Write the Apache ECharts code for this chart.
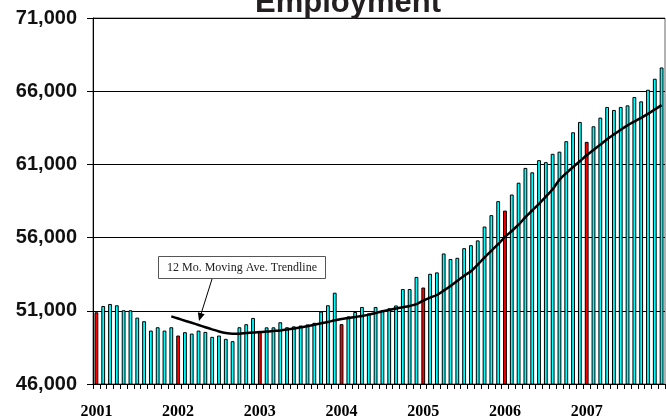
<!DOCTYPE html>
<html>
<head>
<meta charset="utf-8">
<script src="https://cdn.jsdelivr.net/npm/echarts@6/dist/echarts.min.js"></script>
<style>html,body{margin:0;padding:0;background:#fff}#c{width:666px;height:420px}</style>
</head>
<body>
<div id="c"></div>
<script>
// Monthly categories Jan 2001 .. Dec 2007
var years = ['2001','2002','2003','2004','2005','2006','2007'];
var months = ['01','02','03','04','05','06','07','08','09','10','11','12'];
var categories = [];
years.forEach(function (y) { months.forEach(function (m) { categories.push(y + '-' + m); }); });

var employment = [
  50900, 51330, 51466, 51378, 51037, 51037, 50534, 50290, 49650, 49877, 49650, 49877,
  49310, 49540, 49445, 49650, 49560, 49220, 49310, 49084, 48927, 49877, 50084, 50513,
  49540, 49870, 49870, 50220, 49877, 49940, 49995, 50070, 50180, 50950, 51380, 52236,
  50090, 50620, 50920, 51262, 50820, 51262, 51037, 51173, 51365, 52487, 52487, 53315,
  52590, 53530, 53624, 54917, 54540, 54620, 55278, 55482, 55810, 56755, 57535, 58490,
  57845, 58945, 59750, 60760, 60460, 61290, 61155, 61725, 61870, 62585, 63195, 63900,
  62540, 63604, 64196, 64924, 64720, 64924, 65033, 65605, 65306, 66102, 66851, 67620
];

// 12 month moving average trendline, null before Dec 2001
var trend = [
  null, null, null, null, null, null, null, null, null, null, null, 50620,
  50470, 50320, 50180, 50030, 49880, 49730, 49590, 49480, 49430, 49430, 49480, 49520,
  49550, 49580, 49620, 49660, 49720, 49790, 49870, 49950, 50050, 50150, 50230, 50350,
  50440, 50510, 50580, 50650, 50740, 50850, 50970, 51060, 51160, 51240, 51330, 51460,
  51700, 51900, 52080, 52380, 52700, 53050, 53400, 53700, 54150, 54650, 55100, 55550,
  56050, 56450, 56880, 57400, 57850, 58300, 58800, 59300, 59950, 60400, 60820, 61220,
  61620, 61980, 62350, 62720, 63050, 63370, 63670, 63930, 64180, 64450, 64750, 65050
];

var yTicks = [46000, 51000, 56000, 61000, 66000, 71000];

var chart = echarts.init(document.getElementById('c'), null, {renderer: 'canvas'});
chart.setOption({
  animation: false,
  backgroundColor: '#ffffff',
  title: {
    text: 'Employment',
    left: 255,
    top: -12,
    padding: 0,
    textStyle: {fontFamily: 'Liberation Sans, Arial, sans-serif', fontWeight: 'bold', fontSize: 31, color: '#231f20'}
  },
  grid: {
    left: 93, right: 1, top: 18, bottom: 35,
    show: true, borderColor: '#666', borderWidth: 1, backgroundColor: 'transparent'
  },
  xAxis: {
    type: 'category',
    data: categories,
    boundaryGap: true,
    axisLine: {lineStyle: {color: '#000', width: 1}},
    axisTick: {show: true, interval: 0, length: 5, lineStyle: {color: '#000'}},
    axisLabel: {
      interval: 11,
      margin: 20,
      fontFamily: 'Liberation Serif, Times New Roman, serif',
      fontWeight: 'bold',
      fontSize: 16,
      color: '#000',
      formatter: function (v) { return v.split('-')[1] === '01' ? v.split('-')[0] : ''; }
    },
    splitLine: {show: false}
  },
  yAxis: {
    type: 'value',
    min: yTicks[0],
    max: yTicks[yTicks.length - 1],
    interval: 5000,
    axisLine: {show: true, lineStyle: {color: '#000', width: 1}},
    axisTick: {show: true, length: 6, lineStyle: {color: '#000'}},
    axisLabel: {
      margin: 16,
      fontFamily: 'Liberation Sans, Arial, sans-serif',
      fontWeight: 'bold',
      fontSize: 20,
      color: '#111',
      formatter: function (v) { return v.toLocaleString('en-US'); }
    },
    splitLine: {show: true, lineStyle: {color: '#000', width: 1}}
  },
  series: [
    {
      type: 'bar',
      data: employment,
      barWidth: 3.8,
      itemStyle: {
        color: function (p) { return p.dataIndex % 12 === 0 ? '#ff0000' : '#00ffff'; },
        borderColor: '#000',
        borderWidth: 1
      }
    },
    {
      type: 'line',
      data: trend,
      showSymbol: false,
      symbol: 'none',
      smooth: 0.3,
      connectNulls: false,
      lineStyle: {color: '#000', width: 2.5},
      z: 5
    }
  ],
  graphic: [
    {
      type: 'rect', z: 100,
      shape: {x: 158.5, y: 256.5, width: 167, height: 22},
      style: {fill: '#fff', stroke: '#555', lineWidth: 1}
    },
    {
      type: 'text', z: 101,
      x: 242, y: 267.5,
      style: {
        text: '12 Mo. Moving Ave. Trendline',
        fontFamily: 'Liberation Serif, Times New Roman, serif',
        fontSize: 12, fill: '#222', align: 'center', verticalAlign: 'middle'
      }
    },
    {
      type: 'line', z: 100,
      shape: {x1: 212, y1: 279, x2: 201, y2: 314},
      style: {stroke: '#000', lineWidth: 1}
    },
    {
      type: 'polygon', z: 100,
      shape: {points: [[199, 321], [204.6, 314.3], [197.9, 312.3]]},
      style: {fill: '#000'}
    }
  ]
});
</script>
</body>
</html>
